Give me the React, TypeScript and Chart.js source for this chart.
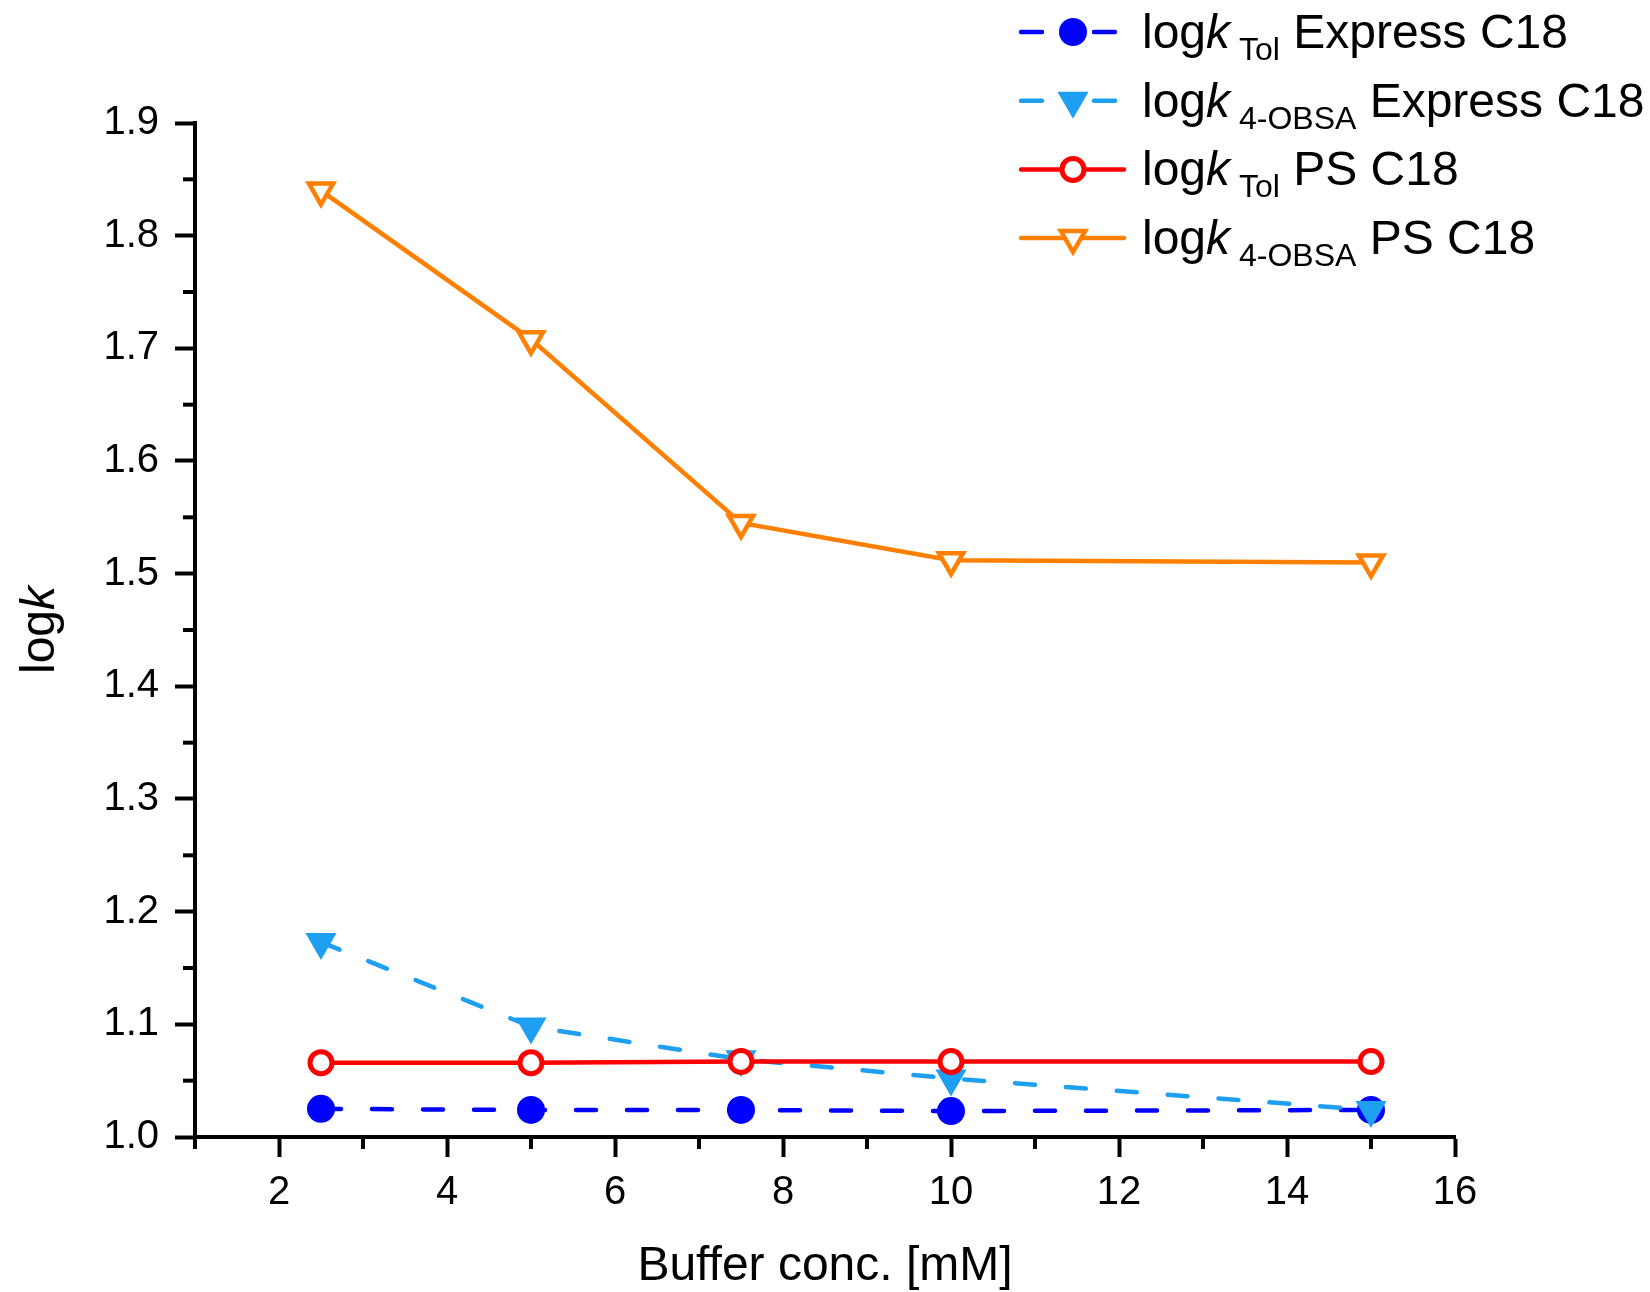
import React, { useEffect, useRef } from 'react';
import { Chart, registerables } from 'chart.js';

Chart.register(...registerables);

// ---------- data ----------
const bufferConc = [2.5, 5, 7.5, 10, 15];
const logkTolExpress = [1.025, 1.024, 1.024, 1.023, 1.024];
const logkObsaExpress = [1.173, 1.098, 1.069, 1.052, 1.024];
const logkTolPS = [1.066, 1.066, 1.067, 1.067, 1.067];
const logkObsaPS = [1.84, 1.708, 1.545, 1.512, 1.51];

const xMajorTicks = [2, 4, 6, 8, 10, 12, 14, 16];
const xMinorTicks = [1, 3, 5, 7, 9, 11, 13, 15];
const yMajorTicks = [1.0, 1.1, 1.2, 1.3, 1.4, 1.5, 1.6, 1.7, 1.8, 1.9];
const yMinorTicks = [1.05, 1.15, 1.25, 1.35, 1.45, 1.55, 1.65, 1.75, 1.85];

const xTitle = 'Buffer conc. [mM]';
const yTitleMain = 'log';
const yTitleItalic = 'k';

const legendSubs = ['Tol', '4-OBSA', 'Tol', '4-OBSA'];
const legendRests = ['Express C18', 'Express C18', 'PS C18', 'PS C18'];

// ---------- styles ----------
const FONT = '"Liberation Sans", Arial, Helvetica, sans-serif';
const BLUE = '#0000FF';
const LIGHT_BLUE = '#1E9FF2';
const RED = '#FF0000';
const ORANGE = '#FF8000';
const TITLE_SIZE = 48;
const SUB_SIZE = 32;
const TICK_SIZE = 40;
const LINE_W = 4.5;

type Style = {
  color: string;
  dashed: boolean;
  shape: 'circle' | 'triangle';
  radius: number;
  bw: number;
  filled: boolean;
};

const seriesStyles: Style[] = [
  { color: BLUE, dashed: true, shape: 'circle', radius: 13, bw: 2, filled: true },
  { color: LIGHT_BLUE, dashed: true, shape: 'triangle', radius: 15, bw: 3, filled: true },
  { color: RED, dashed: false, shape: 'circle', radius: 11, bw: 5, filled: false },
  { color: ORANGE, dashed: false, shape: 'triangle', radius: 14, bw: 4.5, filled: false },
];

function drawMarker(ctx: CanvasRenderingContext2D, s: Style, x: number, y: number) {
  ctx.save();
  ctx.beginPath();
  if (s.shape === 'circle') {
    ctx.arc(x, y, s.radius, 0, Math.PI * 2);
  } else {
    let rad = Math.PI; // rotation 180 -> pointing down
    const step = (2 * Math.PI) / 3;
    ctx.moveTo(x + Math.sin(rad) * s.radius, y - Math.cos(rad) * s.radius);
    rad += step;
    ctx.lineTo(x + Math.sin(rad) * s.radius, y - Math.cos(rad) * s.radius);
    rad += step;
    ctx.lineTo(x + Math.sin(rad) * s.radius, y - Math.cos(rad) * s.radius);
  }
  ctx.closePath();
  ctx.fillStyle = s.filled ? s.color : '#FFFFFF';
  ctx.fill();
  ctx.lineWidth = s.bw;
  ctx.strokeStyle = s.color;
  ctx.setLineDash([]);
  ctx.stroke();
  ctx.restore();
}

const customPlugin = {
  id: 'customDecor',
  afterDraw(chart: any) {
    const ctx: CanvasRenderingContext2D = chart.ctx;
    const xs = chart.scales.x;
    const ys = chart.scales.y;
    ctx.save();

    // minor ticks
    ctx.strokeStyle = '#000';
    ctx.lineWidth = 4;
    ctx.lineCap = 'butt';
    for (const v of yMinorTicks) {
      const py = ys.getPixelForValue(v);
      ctx.beginPath();
      ctx.moveTo(ys.right - 2, py);
      ctx.lineTo(ys.right - 12, py);
      ctx.stroke();
    }
    for (const v of xMinorTicks) {
      const px = xs.getPixelForValue(v);
      ctx.beginPath();
      ctx.moveTo(px, xs.top + 2);
      ctx.lineTo(px, xs.top + 12);
      ctx.stroke();
    }

    // y axis title: log + italic k
    ctx.save();
    ctx.translate(54, (ys.top + ys.bottom) / 2);
    ctx.rotate(-Math.PI / 2);
    ctx.fillStyle = '#000';
    ctx.textBaseline = 'alphabetic';
    ctx.textAlign = 'left';
    ctx.font = `${TITLE_SIZE}px ${FONT}`;
    const w1 = ctx.measureText(yTitleMain).width;
    ctx.font = `italic ${TITLE_SIZE}px ${FONT}`;
    const w2 = ctx.measureText(yTitleItalic).width;
    const start = -(w1 + w2) / 2;
    ctx.font = `${TITLE_SIZE}px ${FONT}`;
    ctx.fillText(yTitleMain, start, 0);
    ctx.font = `italic ${TITLE_SIZE}px ${FONT}`;
    ctx.fillText(yTitleItalic, start + w1, 0);
    ctx.restore();

    // legend
    const lineX0 = 1021;
    const lineX1 = 1124;
    const markerX = 1073;
    const textX = 1142;
    for (let i = 0; i < seriesStyles.length; i++) {
      const s = seriesStyles[i];
      const y = 32 + 68.7 * i;
      ctx.save();
      ctx.strokeStyle = s.color;
      ctx.lineWidth = LINE_W;
      ctx.lineCap = 'round';
      ctx.beginPath();
      if (s.dashed) {
        ctx.moveTo(lineX0, y);
        ctx.lineTo(lineX0 + 21, y);
        ctx.moveTo(markerX + 21, y);
        ctx.lineTo(markerX + 42, y);
      } else {
        ctx.moveTo(lineX0, y);
        ctx.lineTo(lineX1, y);
      }
      ctx.stroke();
      ctx.restore();
      drawMarker(ctx, s, markerX, y);

      ctx.fillStyle = '#000';
      ctx.textAlign = 'left';
      ctx.textBaseline = 'alphabetic';
      let x = textX;
      ctx.font = `${TITLE_SIZE}px ${FONT}`;
      ctx.fillText('log', x, y + 16);
      x += ctx.measureText('log').width;
      ctx.font = `italic ${TITLE_SIZE}px ${FONT}`;
      ctx.fillText('k', x, y + 16);
      x += ctx.measureText('k').width;
      ctx.font = `${SUB_SIZE}px ${FONT}`;
      x += ctx.measureText(' ').width;
      ctx.fillText(legendSubs[i], x, y + 28);
      x += ctx.measureText(legendSubs[i]).width;
      ctx.font = `${TITLE_SIZE}px ${FONT}`;
      x += ctx.measureText(' ').width;
      ctx.fillText(legendRests[i], x, y + 16);
    }

    ctx.restore();
  },
};

function makeDataset(label: string, values: number[], s: Style, order: number) {
  return {
    label,
    data: bufferConc.map((x, i) => ({ x, y: values[i] })),
    borderColor: s.color,
    backgroundColor: s.color,
    borderWidth: LINE_W,
    borderDash: s.dashed ? [20, 31] : [],
    borderCapStyle: s.dashed ? 'round' : 'butt',
    tension: 0,
    pointStyle: s.shape,
    pointRotation: s.shape === 'triangle' ? 180 : 0,
    pointRadius: s.radius,
    pointHoverRadius: s.radius,
    pointBorderWidth: s.bw,
    pointBorderColor: s.color,
    pointBackgroundColor: s.filled ? s.color : '#FFFFFF',
    order,
  };
}

export default function App() {
  const canvasRef = useRef<HTMLCanvasElement | null>(null);

  useEffect(() => {
    if (!canvasRef.current) return;
    const chart = new Chart(canvasRef.current, {
      type: 'line',
      data: {
        datasets: [
          makeDataset('logk Tol Express C18', logkTolExpress, seriesStyles[0], 4),
          makeDataset('logk 4-OBSA Express C18', logkObsaExpress, seriesStyles[1], 3),
          makeDataset('logk Tol PS C18', logkTolPS, seriesStyles[2], 2),
          makeDataset('logk 4-OBSA PS C18', logkObsaPS, seriesStyles[3], 1),
        ] as any,
      },
      options: {
        responsive: false,
        animation: false,
        devicePixelRatio: 1,
        events: [],
        layout: { padding: { left: 0, top: 123, right: 195, bottom: 0 } },
        plugins: {
          legend: { display: false },
          tooltip: { enabled: false },
          title: { display: false },
        },
        scales: {
          x: {
            type: 'linear',
            position: 'bottom',
            min: 1,
            max: 16,
            afterBuildTicks: (scale: any) => {
              scale.ticks = xMajorTicks.map((v) => ({ value: v }));
            },
            afterFit: (scale: any) => {
              scale.height = 155;
            },
            ticks: {
              color: '#000',
              font: { family: FONT, size: TICK_SIZE },
              padding: 12,
              maxRotation: 0,
              autoSkip: false,
              callback: (v: any) => String(v),
            },
            grid: {
              drawOnChartArea: false,
              drawTicks: true,
              tickLength: 20,
              tickWidth: 4,
              tickColor: '#000',
            },
            border: { display: true, color: '#000', width: 4 },
            title: {
              display: true,
              text: xTitle,
              color: '#000',
              font: { family: FONT, size: TITLE_SIZE },
              padding: { top: 0, bottom: -4 },
            },
          },
          y: {
            type: 'linear',
            position: 'left',
            min: 1.0,
            max: 1.9,
            afterBuildTicks: (scale: any) => {
              scale.ticks = yMajorTicks.map((v) => ({ value: v }));
            },
            afterFit: (scale: any) => {
              scale.width = 195;
            },
            ticks: {
              color: '#000',
              font: { family: FONT, size: TICK_SIZE },
              padding: 16,
              autoSkip: false,
              callback: (v: any) => Number(v).toFixed(1),
            },
            grid: {
              drawOnChartArea: false,
              drawTicks: true,
              tickLength: 20,
              tickWidth: 4,
              tickColor: '#000',
            },
            border: { display: true, color: '#000', width: 4 },
            title: { display: false },
          },
        },
      } as any,
      plugins: [customPlugin],
    });
    return () => chart.destroy();
  }, []);

  return (
    <div style={{ position: 'absolute', left: 0, top: 0, width: 1650, height: 1292, background: '#fff' }}>
      <canvas ref={canvasRef} width={1650} height={1292} style={{ display: 'block' }} />
    </div>
  );
}
